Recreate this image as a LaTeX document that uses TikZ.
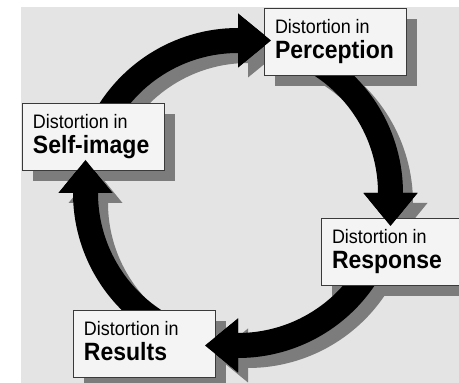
\documentclass[tikz,border=0pt]{standalone}
\usepackage{fontspec}
\newfontfamily\cf[FakeStretch=0.92]{Liberation Sans}
\usetikzlibrary{calc,arrows.meta}
\pgfdeclarelayer{bgl}
\pgfdeclarelayer{shl}
\pgfdeclarelayer{arl}
\pgfsetlayers{bgl,shl,arl,main}
\definecolor{pagebg}{HTML}{E4E4E4}
\definecolor{boxfill}{HTML}{F4F4F4}
\definecolor{boxline}{HTML}{3A3A3A}
\definecolor{shadowc}{HTML}{7C7C7C}
\newcommand\boxtxt[1]{\vbox to 67pt{\offinterlineskip\hbox to 142pt{}%
  \kern26pt\moveright11pt\hbox{\smash{\cf\fontsize{19.5}{20}\selectfont Distortion in}}%
  \kern25pt\moveright11pt\hbox{\smash{\cf\bfseries\fontsize{25}{26}\selectfont #1}}\vfil}}
\begin{document}
\begin{tikzpicture}[x=1pt,y=1pt,
  box/.style={draw=boxline,line width=0.9pt,fill=boxfill,inner sep=0pt,outer sep=0pt,anchor=north west},
  bigarrow/.style={line width=25pt,-{Triangle[width=54pt,length=33pt,line width=0pt]}},
  boxshadow/.style={fill=shadowc}]
\useasboundingbox (0,0) rectangle (459,383);
\begin{pgfonlayer}{bgl}
  \fill[pagebg] (21,0) rectangle (459,376);
\end{pgfonlayer}
\coordinate (C) at (238,190);
\node[box] (self) at (22,280) {\boxtxt{Self-image}};
\node[box] (perc) at (264,375) {\boxtxt{Perception}};
\node[box] (resp) at (321,165) {\boxtxt{Response}};
\node[box] (res) at (73,73) {\boxtxt{Results}};
% arrow end points
\coordinate (s1) at ($(C)+(155:152.5)$); \coordinate (h1) at ($(C)+(90:152.5)$);  \coordinate (t1) at ($(h1)+(33,0)$);
\coordinate (s2) at ($(C)+(62:152.5)$);  \coordinate (h2) at ($(C)+(0:152.5)$);   \coordinate (t2) at ($(h2)+(0,-33)$);
\coordinate (s3) at ($(C)+(-30:152.5)$); \coordinate (h3) at ($(C)+(-90:152.5)$); \coordinate (t3) at ($(h3)+(-33,0)$);
\coordinate (s4) at ($(C)+(240:152.5)$); \coordinate (h4) at ($(C)+(180:152.5)$); \coordinate (t4) at ($(h4)+(0,33)$);
\begin{pgfonlayer}{shl}
  \foreach \n in {self,perc,resp,res}
    \fill[boxshadow] ($(\n.north west)+(11,-11)$) rectangle ($(\n.south east)+(11,-11)$);
  \begin{scope}[transform canvas={xshift=10pt,yshift=-10pt}]
    \draw[bigarrow,color=shadowc] (s1) arc[start angle=155,end angle=90,radius=152.5] -- (t1);
    \draw[bigarrow,color=shadowc] (s2) arc[start angle=62,end angle=0,radius=152.5] -- (t2);
    \draw[bigarrow,color=shadowc] (s3) arc[start angle=-30,end angle=-90,radius=152.5] -- (t3);
    \draw[bigarrow,color=shadowc] (s4) arc[start angle=240,end angle=180,radius=152.5] -- (t4);
  \end{scope}
\end{pgfonlayer}
\begin{pgfonlayer}{arl}
  \draw[bigarrow,color=black] (s1) arc[start angle=155,end angle=90,radius=152.5] -- (t1);
  \draw[bigarrow,color=black] (s2) arc[start angle=62,end angle=0,radius=152.5] -- (t2);
  \draw[bigarrow,color=black] (s3) arc[start angle=-30,end angle=-90,radius=152.5] -- (t3);
  \draw[bigarrow,color=black] (s4) arc[start angle=240,end angle=180,radius=152.5] -- (t4);
\end{pgfonlayer}
% heads overlap the boxes they point to
\draw[bigarrow,color=black] (h1) -- (t1);
\draw[bigarrow,color=black] (h2) -- (t2);
\draw[bigarrow,color=black] (h3) -- (t3);
\draw[bigarrow,color=black] (h4) -- (t4);
\end{tikzpicture}
\end{document}
